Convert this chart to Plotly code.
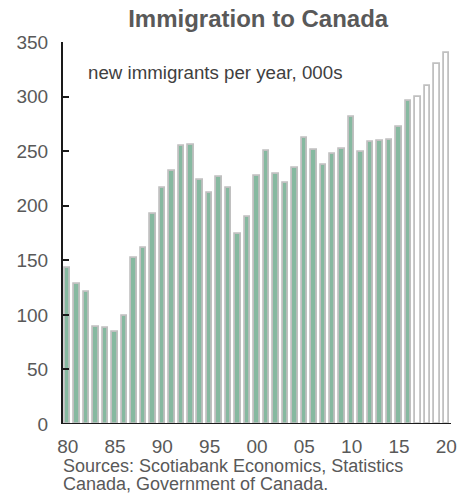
import plotly.graph_objects as go

years = list(range(1980, 2021))
actual_years = list(range(1980, 2017))
actual_values = [143, 128, 121, 89, 88, 84, 99, 152, 161, 192, 216, 232, 255, 256,
                 224, 212, 226, 216, 174, 190, 227, 250, 229, 221, 235, 262, 251,
                 237, 247, 252, 281, 249, 258, 259, 260, 272, 296]
proj_years = [2017, 2018, 2019, 2020]
proj_values = [300, 310, 330, 340]
tick_vals = [1980, 1985, 1990, 1995, 2000, 2005, 2010, 2015, 2020]
tick_text = ["80", "85", "90", "95", "00", "05", "10", "15", "20"]
source_lines = ["Sources: Scotiabank Economics, Statistics", "Canada, Government of Canada."]

FONT = "Liberation Sans, Arial, sans-serif"

fig = go.Figure()
fig.add_trace(go.Bar(x=actual_years, y=actual_values, width=0.58,
                     marker=dict(color="#86b9a0", line=dict(color="#c0c0c0", width=1.8))))
fig.add_trace(go.Bar(x=proj_years, y=proj_values, width=0.58,
                     marker=dict(color="#ffffff", line=dict(color="#c0c0c0", width=1.8))))

annotations = [
    dict(text="new immigrants per year, 000s", xref="paper", yref="paper",
         x=0.06, y=0.921, xanchor="left", yanchor="middle", showarrow=False,
         font=dict(size=18.7, color="#404040")),
]
for i, line in enumerate(source_lines):
    annotations.append(dict(text=line, xref="paper", yref="paper",
                            x=-0.005, y=(424 - 466 - 18 * i) / 382, xanchor="left",
                            yanchor="middle", align="left", showarrow=False,
                            font=dict(size=18, color="#595959")))

fig.update_layout(
    width=469, height=495,
    margin=dict(l=63, r=18, t=42, b=71),
    plot_bgcolor="white", paper_bgcolor="white",
    showlegend=False,
    bargap=0,
    font=dict(family=FONT, color="#595959", size=19),
    title=dict(text="<b>Immigration to Canada</b>", xref="paper", x=0.503, xanchor="center",
               y=0.963, yanchor="middle", font=dict(size=24, color="#595959", family=FONT)),
    xaxis=dict(range=[1979.5, 2020.5], tickvals=tick_vals, ticktext=tick_text,
               showgrid=False, zeroline=False, showline=False, ticks="",
               ticklabelstandoff=9,
               tickfont=dict(size=19, color="#595959")),
    yaxis=dict(range=[0, 350], dtick=50, showgrid=False, zeroline=False,
               showline=True, linecolor="#1a1a1a", linewidth=2,
               ticks="inside", ticklen=6, tickcolor="#1a1a1a", tickwidth=2,
               ticklabelstandoff=9, layer="above traces",
               tickfont=dict(size=19, color="#595959")),
    shapes=[dict(type="line", xref="paper", yref="y", x0=0, x1=1, y0=0, y1=0,
                 line=dict(color="#1a1a1a", width=2))],
    annotations=annotations,
)

fig.write_html("out.html")
